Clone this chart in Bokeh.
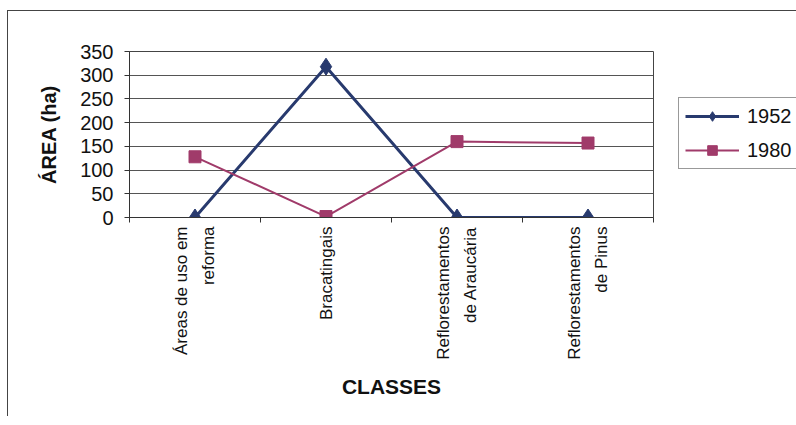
from bokeh.plotting import figure
from bokeh.models import FixedTicker, Legend, LegendItem, Range1d
from bokeh.embed import file_html
from bokeh.resources import INLINE

categories = ["Áreas de uso em\nreforma", "Bracatingais",
              "Reflorestamentos\nde Araucária", "Reflorestamentos\nde Pinus"]
series_1952 = [0, 318, 0, 0]
series_1980 = [128, 2, 160, 157]
y_ticks = [0, 50, 100, 150, 200, 250, 300, 350]

xs = [i + 0.5 for i in range(len(categories))]

FONT = "Liberation Sans"
NAVY = "#283A6E"
PLUM = "#A03B6A"

p = figure(frame_width=524, frame_height=166, output_backend="svg", toolbar_location=None,
           x_range=Range1d(0, len(categories)), y_range=Range1d(0, 350),
           min_border_left=121, min_border_right=144, min_border_top=40, min_border_bottom=199,
           background_fill_color="white", border_fill_color="white",
           styles={"margin-left": "7px", "margin-top": "10px",
                   "border-left": "1px solid #444", "border-top": "1px solid #444"})

p.outline_line_color = "#444444"
p.outline_line_width = 1

# y axis
p.yaxis.ticker = FixedTicker(ticks=y_ticks)
p.yaxis.major_label_text_font = FONT
p.yaxis.major_label_text_font_size = "20px"
p.yaxis.major_label_text_color = "#111111"
p.yaxis.axis_line_color = "#333333"
p.yaxis.major_tick_line_color = "#333333"
p.yaxis.major_tick_out = 5
p.yaxis.major_tick_in = 0
p.yaxis.minor_tick_line_color = None
p.yaxis.major_label_standoff = 11
p.yaxis.axis_label = "ÁREA (ha)"
p.yaxis.axis_label_text_font = FONT
p.yaxis.axis_label_text_font_style = "bold"
p.yaxis.axis_label_text_font_size = "20px"
p.yaxis.axis_label_text_color = "#111111"
p.yaxis.axis_label_standoff = 17

# x axis
p.xaxis.ticker = FixedTicker(ticks=xs, minor_ticks=list(range(len(categories) + 1)))
p.xaxis.major_label_overrides = {x: c for x, c in zip(xs, categories)}
p.xaxis.major_label_orientation = 3.14159265 / 2
p.xaxis.major_label_text_font = FONT
p.xaxis.major_label_text_font_size = "17px"
p.xaxis.major_label_text_line_height = 1.4
p.xaxis.major_label_text_color = "#111111"
p.xaxis.major_label_text_align = "center"
p.xaxis.major_tick_out = 0
p.xaxis.major_tick_in = 0
p.xaxis.minor_tick_out = 5
p.xaxis.minor_tick_in = 0
p.xaxis.minor_tick_line_color = "#333333"
p.xaxis.axis_line_color = "#333333"
p.xaxis.major_label_standoff = 4
p.xaxis.axis_label = "CLASSES"
p.xaxis.axis_label_text_font = FONT
p.xaxis.axis_label_text_font_style = "bold"
p.xaxis.axis_label_text_font_size = "21px"
p.xaxis.axis_label_text_color = "#111111"
p.xaxis.axis_label_standoff = 12

p.xgrid.grid_line_color = None
p.ygrid.ticker = FixedTicker(ticks=y_ticks)
p.ygrid.grid_line_color = "#555555"
p.ygrid.grid_line_width = 1

l1 = p.line(xs, series_1952, line_color=NAVY, line_width=3)
m1 = p.scatter(xs, series_1952, marker="diamond", size=17, fill_color=NAVY, line_color=NAVY)
l2 = p.line(xs, series_1980, line_color=PLUM, line_width=2)
m2 = p.scatter(xs, series_1980, marker="square", size=12, fill_color=PLUM, line_color=PLUM)

legend = Legend(items=[LegendItem(label="1952", renderers=[l1, m1]),
                       LegendItem(label="1980", renderers=[l2, m2])],
                location=(25, 48))
legend.label_text_font = FONT
legend.label_text_font_size = "20px"
legend.label_text_color = "#111111"
legend.glyph_width = 54
legend.glyph_height = 24
legend.label_standoff = 8
legend.spacing = 10
legend.padding = 6
legend.margin = 0
legend.border_line_color = "#333333"
legend.border_line_width = 1
legend.background_fill_color = "white"
p.add_layout(legend, "right")

open("out.html", "w").write(file_html(p, INLINE))
